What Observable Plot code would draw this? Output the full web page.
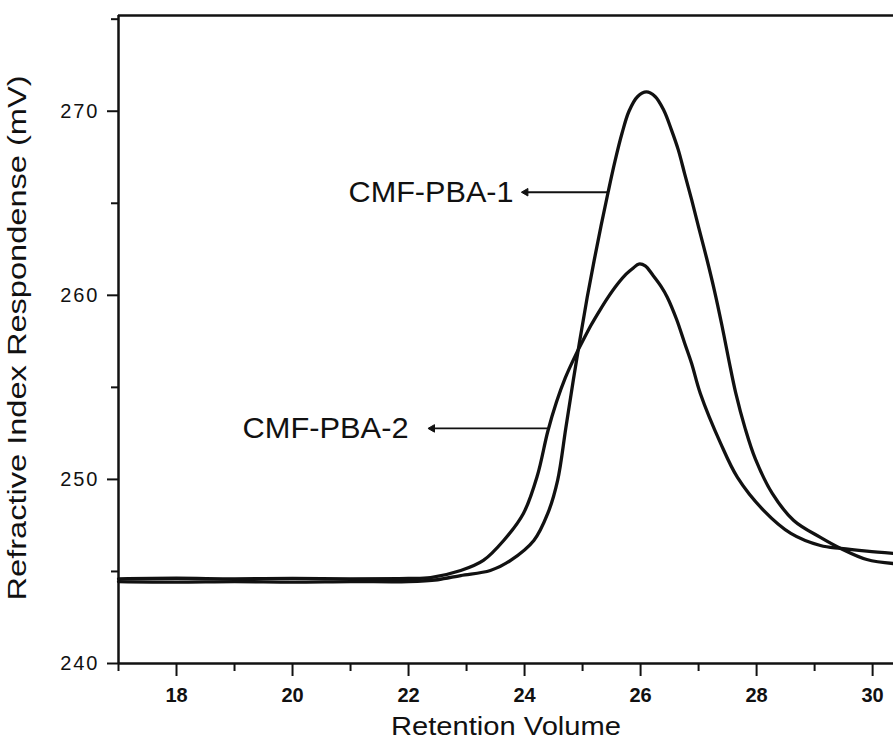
<!DOCTYPE html>
<html><head><meta charset="utf-8">
<script src="https://cdn.jsdelivr.net/npm/d3@7"></script>
<script src="https://cdn.jsdelivr.net/npm/@observablehq/plot@0.6"></script>
<style>
body{margin:0;background:#fff;}
#chart svg{display:block;}
#chart g[aria-label="y-axis tick label"] text{letter-spacing:2px;}
</style></head><body><div id="chart"></div>
<script>
// axis domains and ticks
const xDomain = [17, 30.36];
const yDomain = [240, 275.2];
const xMajorTicks = [18, 20, 22, 24, 26, 28, 30];
const xMinorTicks = [17, 19, 21, 23, 25, 27, 29];
const yMajorTicks = [240, 250, 260, 270];
const yMinorTicks = [245, 255, 265, 275];

// series names
const seriesNames = ["CMF-PBA-1", "CMF-PBA-2"];

// CMF-PBA-1 (taller peak)
const pba1X = [17, 18, 19, 20, 21, 22, 22.5, 22.9, 23.41, 23.76, 24.16, 24.40, 24.57, 24.71, 24.84, 24.96, 25.08, 25.2, 25.32, 25.44, 25.56, 25.68, 25.8, 25.95, 26.1, 26.25, 26.40, 26.53, 26.65, 26.76, 26.88, 27.0, 27.14, 27.27, 27.40, 27.52, 27.64, 27.8, 27.98, 28.27, 28.64, 29.10, 29.45, 29.9, 30.36];
const pba1Y = [244.45, 244.42, 244.45, 244.42, 244.45, 244.45, 244.55, 244.78, 245.05, 245.6, 246.68, 248.15, 249.95, 252.77, 255.38, 257.7, 259.9, 261.9, 263.8, 265.6, 267.3, 268.8, 270.0, 270.8, 271.05, 270.8, 270.05, 269.0, 267.9, 266.6, 265.2, 263.7, 262.0, 260.3, 258.4, 256.5, 254.7, 252.8, 251.1, 249.24, 247.77, 246.85, 246.25, 245.65, 245.43];

// CMF-PBA-2 (lower, broader peak)
const pba2X = [17, 18, 19, 20, 21, 22, 22.38, 22.9, 23.29, 23.64, 23.98, 24.22, 24.40, 24.55, 24.7, 24.88, 25.0, 25.15, 25.3, 25.43, 25.6, 25.75, 25.88, 25.97, 26.08, 26.21, 26.35, 26.46, 26.62, 26.76, 26.88, 27.03, 27.38, 27.67, 28.12, 28.59, 29.10, 29.45, 29.9, 30.36];
const pba2Y = [244.6, 244.63, 244.6, 244.62, 244.6, 244.62, 244.67, 245.05, 245.6, 246.68, 248.15, 250.2, 252.6, 254.2, 255.5, 256.75, 257.5, 258.4, 259.2, 259.85, 260.6, 261.15, 261.5, 261.7, 261.6, 261.1, 260.5, 259.9, 258.7, 257.4, 256.3, 254.67, 251.96, 250.11, 248.32, 247.07, 246.41, 246.25, 246.1, 245.98];

// annotation labels (data coordinates)
const labelX = [23.81, 22.0];
const labelY = [265.6, 252.77];
const arrowFromX = [25.43, 24.40];
const arrowToX = [24.02, 22.41];

// titles
const xTitle = "Retention Volume";
const yTitle = "Refractive Index Respondense (mV)";

const lineData = [
  ...pba1X.map((x, i) => ({x, y: pba1Y[i], s: seriesNames[0]})),
  ...pba2X.map((x, i) => ({x, y: pba2Y[i], s: seriesNames[1]}))
];
const annot = seriesNames.map((name, i) => ({
  name, tx: labelX[i], y: labelY[i], x1: arrowFromX[i], x2: arrowToX[i]
}));

const ink = "#111";
const plot = Plot.plot({
  width: 893, height: 751,
  marginLeft: 118, marginRight: 0, marginTop: 15, marginBottom: 88,
  x: {domain: xDomain},
  y: {domain: yDomain},
  style: {fontFamily: "'Liberation Sans', Arial, sans-serif", background: "#fff", color: ink},
  marks: [
    Plot.axisX(xMajorTicks, {tickSize: 13, tickPadding: 11, strokeWidth: 2, fontSize: 20, fontWeight: "bold", label: null, tickFormat: d => String(d)}),
    Plot.axisX(xMinorTicks, {tickSize: 8, strokeWidth: 2, label: null, tickFormat: () => ""}),
    Plot.axisY(yMajorTicks, {tickSize: 11, tickPadding: 8, strokeWidth: 2, fontSize: 20, label: null, tickFormat: d => String(d)}),
    Plot.axisY(yMinorTicks, {tickSize: 7, strokeWidth: 2, label: null, tickFormat: () => ""}),
    Plot.ruleX([xDomain[0]], {stroke: ink, strokeWidth: 2.5}),
    Plot.ruleY([yDomain[0], yDomain[1]], {stroke: ink, strokeWidth: 2.5}),
    Plot.line(lineData, {x: "x", y: "y", z: "s", stroke: ink, strokeWidth: 3.3, curve: "catmull-rom"}),
    Plot.link(annot, {x1: "x1", x2: "x2", y1: "y", y2: "y", stroke: ink, strokeWidth: 1.8}),
    Plot.dot(annot, {x: "x2", y: "y", symbol: "triangle2", rotate: -90, r: 3.6, fill: ink, stroke: ink, strokeWidth: 1}),
    Plot.text(annot, {x: "tx", y: "y", text: "name", textAnchor: "end", fontSize: 30, fill: ink}),
    Plot.text([xTitle], {frameAnchor: "bottom", dy: 71, fontSize: 26, fill: ink, text: d => d}),
    Plot.text([yTitle], {frameAnchor: "bottom-left", textAnchor: "start", rotate: -90, dx: -93, dy: -63, fontSize: 26, fill: ink, text: d => d})
  ]
});

// stretch titles/labels horizontally to the reference widths
const textWidths = {"Retention Volume": 230, "Refractive Index Respondense (mV)": 525, "CMF-PBA-1": 165, "CMF-PBA-2": 166};
d3.select(plot).selectAll("text").each(function() {
  const w = textWidths[this.textContent];
  if (w) { this.setAttribute("textLength", w); this.setAttribute("lengthAdjust", "spacingAndGlyphs"); }
});
document.getElementById("chart").appendChild(plot);
</script></body></html>
